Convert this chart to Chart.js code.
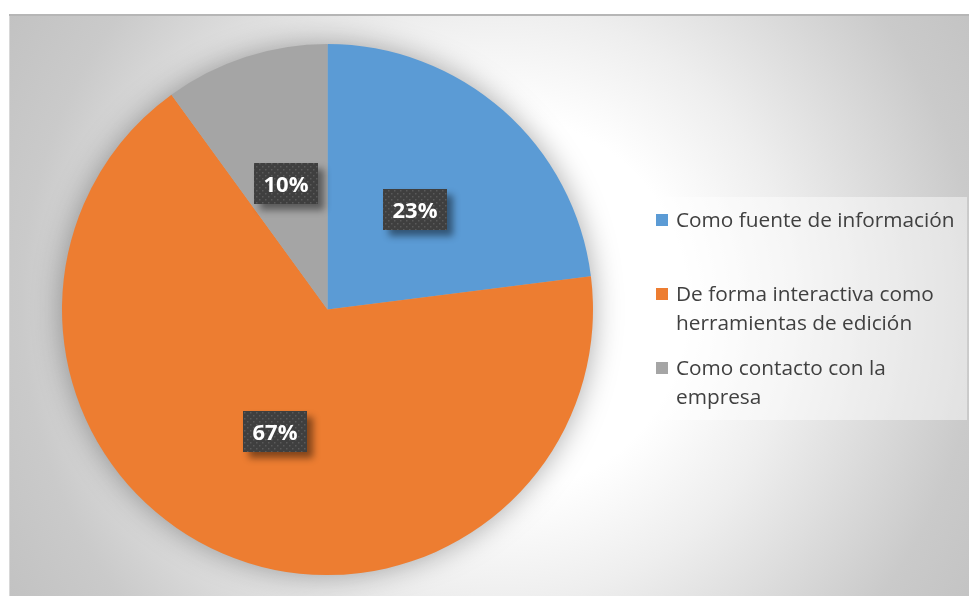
<!DOCTYPE html>
<html>
<head>
<meta charset="utf-8">
<script src="https://cdn.jsdelivr.net/npm/chart.js@4.4.1/dist/chart.umd.min.js"></script>
<style>
  html, body { margin: 0; padding: 0; background: #ffffff; overflow: hidden; }
  #wrap { position: absolute; left: 0; top: 0; width: 969px; height: 596px; }
</style>
</head>
<body>
<div id="wrap"><canvas id="c" width="969" height="596"></canvas></div>
<script>
// Survey answers: how the company's social pages are used
const categories = [
  ['Como fuente de información'],
  ['De forma interactiva como', 'herramientas de edición'],
  ['Como contacto con la', 'empresa']
];
const shares = [23, 67, 10];
const sliceColors = ['#5B9BD5', '#ED7D31', '#A5A5A5'];

const FONT = '"Open Sans", "DejaVu Sans", sans-serif';

// Chart frame with a soft grey-to-white radial fill
const frameBackground = {
  id: 'frameBackground',
  beforeDraw(chart) {
    const ctx = chart.ctx;
    ctx.save();
    ctx.fillStyle = '#ffffff';
    ctx.fillRect(0, 0, chart.width, chart.height);
    const x0 = 9, y0 = 14, w = 960, h = 582;
    const cx = 500, cy = 305;
    const g = ctx.createRadialGradient(cx, cy, 0, cx, cy, 570);
    g.addColorStop(0, '#ffffff');
    g.addColorStop(0.33, '#ffffff');
    g.addColorStop(0.52, '#eeeeee');
    g.addColorStop(0.84, '#cacaca');
    g.addColorStop(1, '#c2c2c2');
    ctx.fillStyle = g;
    ctx.fillRect(x0, y0, w, h);
    ctx.fillStyle = '#b6b6b6';
    ctx.fillRect(x0, y0, w, 2);
    ctx.fillStyle = '#d8d8d8';
    ctx.fillRect(x0, y0 + 2, 1, h - 2);
    ctx.restore();
  }
};

// Soft glow shadow behind the whole pie
const pieShadow = {
  id: 'pieShadow',
  beforeDatasetsDraw(chart) {
    const arc = chart.getDatasetMeta(0).data[0];
    if (!arc) return;
    const ctx = chart.ctx;
    ctx.save();
    ctx.shadowColor = 'rgba(0,0,0,0.36)';
    ctx.shadowBlur = 30;
    ctx.beginPath();
    ctx.arc(arc.x, arc.y, arc.outerRadius - 1, 0, Math.PI * 2);
    ctx.fillStyle = '#b0b0b0';
    ctx.fill();
    ctx.restore();
  }
};

// Dark dotted value boxes at the middle of each slice
function dotPattern(ctx) {
  const tile = document.createElement('canvas');
  tile.width = 6; tile.height = 6;
  const t = tile.getContext('2d');
  t.fillStyle = '#3f3f3f';
  t.fillRect(0, 0, 6, 6);
  t.fillStyle = '#5a5a5a';
  t.fillRect(1, 1, 1.5, 1.5);
  t.fillRect(4, 4, 1.5, 1.5);
  return ctx.createPattern(tile, 'repeat');
}

const valueBoxes = {
  id: 'valueBoxes',
  afterDatasetsDraw(chart) {
    const ctx = chart.ctx;
    const meta = chart.getDatasetMeta(0);
    const values = chart.data.datasets[0].data;
    const pattern = dotPattern(ctx);
    meta.data.forEach((el, i) => {
      const p = el.tooltipPosition();
      const bw = 64, bh = 41;
      const bx = Math.round(p.x - bw / 2), by = Math.round(p.y - bh / 2);
      ctx.save();
      ctx.shadowColor = 'rgba(0,0,0,0.45)';
      ctx.shadowBlur = 7;
      ctx.shadowOffsetX = 6;
      ctx.shadowOffsetY = 6;
      ctx.fillStyle = '#3f3f3f';
      ctx.fillRect(bx, by, bw, bh);
      ctx.restore();
      ctx.save();
      ctx.fillStyle = pattern;
      ctx.fillRect(bx, by, bw, bh);
      ctx.fillStyle = '#ffffff';
      ctx.font = 'bold 22px ' + FONT;
      ctx.textAlign = 'center';
      ctx.textBaseline = 'alphabetic';
      ctx.fillText(values[i] + '%', bx + bw / 2, by + 29);
      ctx.restore();
    });
  }
};

// Legend panel on the right
const sideLegend = {
  id: 'sideLegend',
  afterDraw(chart) {
    const ctx = chart.ctx;
    const labels = chart.data.labels;
    const colors = chart.data.datasets[0].backgroundColor;
    ctx.save();
    ctx.fillStyle = 'rgba(255,255,255,0.45)';
    ctx.fillRect(644, 197, 323, 223);
    const baselines = [227, 301, 375];
    const lineGap = 29;
    ctx.font = '20.8px ' + FONT;
    ctx.textAlign = 'left';
    ctx.textBaseline = 'alphabetic';
    labels.forEach((lines, i) => {
      const b = baselines[i];
      ctx.fillStyle = colors[i];
      ctx.fillRect(656, b - 13, 12, 12);
      ctx.fillStyle = '#404040';
      lines.forEach((line, j) => {
        ctx.fillText(line, 676, b + j * lineGap);
      });
    });
    ctx.restore();
  }
};

new Chart(document.getElementById('c'), {
  type: 'pie',
  data: {
    labels: categories,
    datasets: [{
      data: shares,
      backgroundColor: sliceColors,
      borderWidth: 0,
      hoverOffset: 0
    }]
  },
  options: {
    responsive: false,
    animation: false,
    layout: { padding: { left: 62, right: 376, top: 44, bottom: 21 } },
    plugins: {
      legend: { display: false },
      tooltip: { enabled: false }
    }
  },
  plugins: [frameBackground, pieShadow, valueBoxes, sideLegend]
});
</script>
</body>
</html>
